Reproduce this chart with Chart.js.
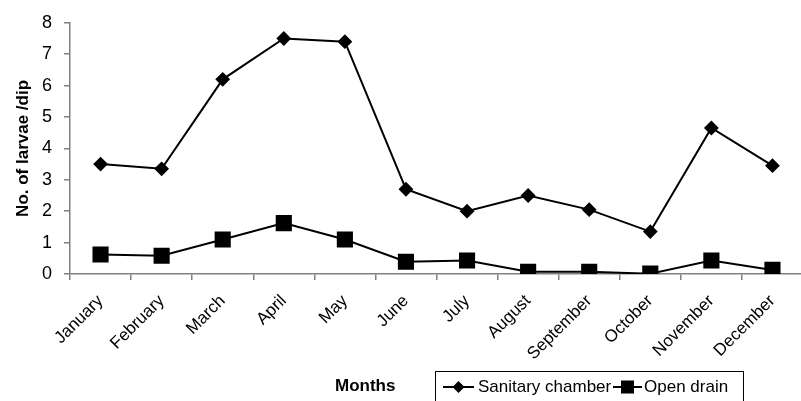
<!DOCTYPE html>
<html>
<head>
<meta charset="utf-8">
<script src="https://cdn.jsdelivr.net/npm/chart.js@4.4.1/dist/chart.umd.min.js"></script>
<style>
  html, body { margin: 0; padding: 0; background: #fff; overflow: hidden; }
  #wrap { position: relative; width: 815px; height: 401px; }
  #larvaeChart { position: absolute; left: 0; top: 0; }
  .lbl { position: absolute; font-family: "Liberation Sans", Arial, sans-serif; color: #000; white-space: nowrap; line-height: 20px; }
  #monthsLabel { left: 335px; top: 376px; font-size: 17px; font-weight: bold; }
  #legendBox { position: absolute; left: 435px; top: 371px; width: 309px; height: 40px; border: 1px solid #000; box-sizing: border-box; }
  #legendBox svg { position: absolute; top: 7px; }
  #legendBox .lbl { top: 5px; font-size: 17px; }
</style>
</head>
<body>
<div id="wrap">
  <canvas id="larvaeChart" width="815" height="401"></canvas>
  <div class="lbl" id="monthsLabel">Months</div>
  <div id="legendBox">
    <svg style="left:7px;" width="31" height="16"><line x1="0" y1="8" x2="31" y2="8" stroke="#000" stroke-width="2"/><polygon points="15.5,2 21.5,8 15.5,14 9.5,8" fill="#000"/></svg>
    <span class="lbl" style="left:42px;">Sanitary chamber</span>
    <svg style="left:177px;" width="29" height="16"><line x1="0" y1="8" x2="29" y2="8" stroke="#000" stroke-width="2"/><rect x="8" y="1.5" width="13" height="13" fill="#000"/></svg>
    <span class="lbl" style="left:208px;">Open drain</span>
  </div>
</div>
<script>
const months = ["January", "February", "March", "April", "May", "June",
  "July", "August", "September", "October", "November", "December"];
const sanitaryChamber = [3.5, 3.35, 6.2, 7.5, 7.4, 2.7, 2.0, 2.5, 2.05, 1.35, 4.65, 3.45];
const openDrain = [0.62, 0.58, 1.1, 1.62, 1.1, 0.39, 0.43, 0.07, 0.07, 0.01, 0.43, 0.13];
const yTicks = [0, 1, 2, 3, 4, 5, 6, 7, 8];

const FONT = "'Liberation Sans', Arial, sans-serif";
const AXISGRAY = "#808080";

const ctx = document.getElementById("larvaeChart").getContext("2d");
new Chart(ctx, {
  type: "line",
  data: {
    labels: months,
    datasets: [
      {
        label: "Sanitary chamber",
        data: sanitaryChamber,
        borderColor: "#000",
        backgroundColor: "#000",
        borderWidth: 2,
        pointStyle: "rectRot",
        pointRadius: 6,
        tension: 0
      },
      {
        label: "Open drain",
        data: openDrain,
        borderColor: "#000",
        backgroundColor: "#000",
        borderWidth: 2,
        pointStyle: "rect",
        pointRadius: 10,
        tension: 0
      }
    ]
  },
  options: {
    responsive: false,
    animation: false,
    layout: { padding: { left: 13, top: 21, right: 6, bottom: 0 } },
    plugins: {
      legend: { display: false },
      tooltip: { enabled: false }
    },
    scales: {
      x: {
        offset: true,
        grid: {
          offset: true,
          drawOnChartArea: false,
          drawTicks: true,
          tickLength: 6,
          color: AXISGRAY,
          lineWidth: 1.5
        },
        border: { color: AXISGRAY, width: 1.5 },
        ticks: {
          color: "#000",
          font: { family: FONT, size: 17 },
          minRotation: 45,
          maxRotation: 45,
          padding: 11,
          autoSkip: false
        },
        afterFit: scale => { scale.height = 127; }
      },
      y: {
        min: 0,
        max: 8,
        afterBuildTicks: scale => { scale.ticks = yTicks.map(v => ({ value: v })); },
        grid: {
          drawOnChartArea: false,
          drawTicks: true,
          tickLength: 6,
          color: AXISGRAY,
          lineWidth: 1.5
        },
        border: { color: AXISGRAY, width: 1.5 },
        ticks: {
          color: "#000",
          font: { family: FONT, size: 18 },
          padding: 12
        },
        title: {
          display: true,
          text: "No. of larvae /dip",
          color: "#000",
          font: { family: FONT, size: 17, weight: "bold" },
          padding: 0
        },
        afterFit: scale => { scale.width = 57; }
      }
    }
  }
});
</script>
</body>
</html>
